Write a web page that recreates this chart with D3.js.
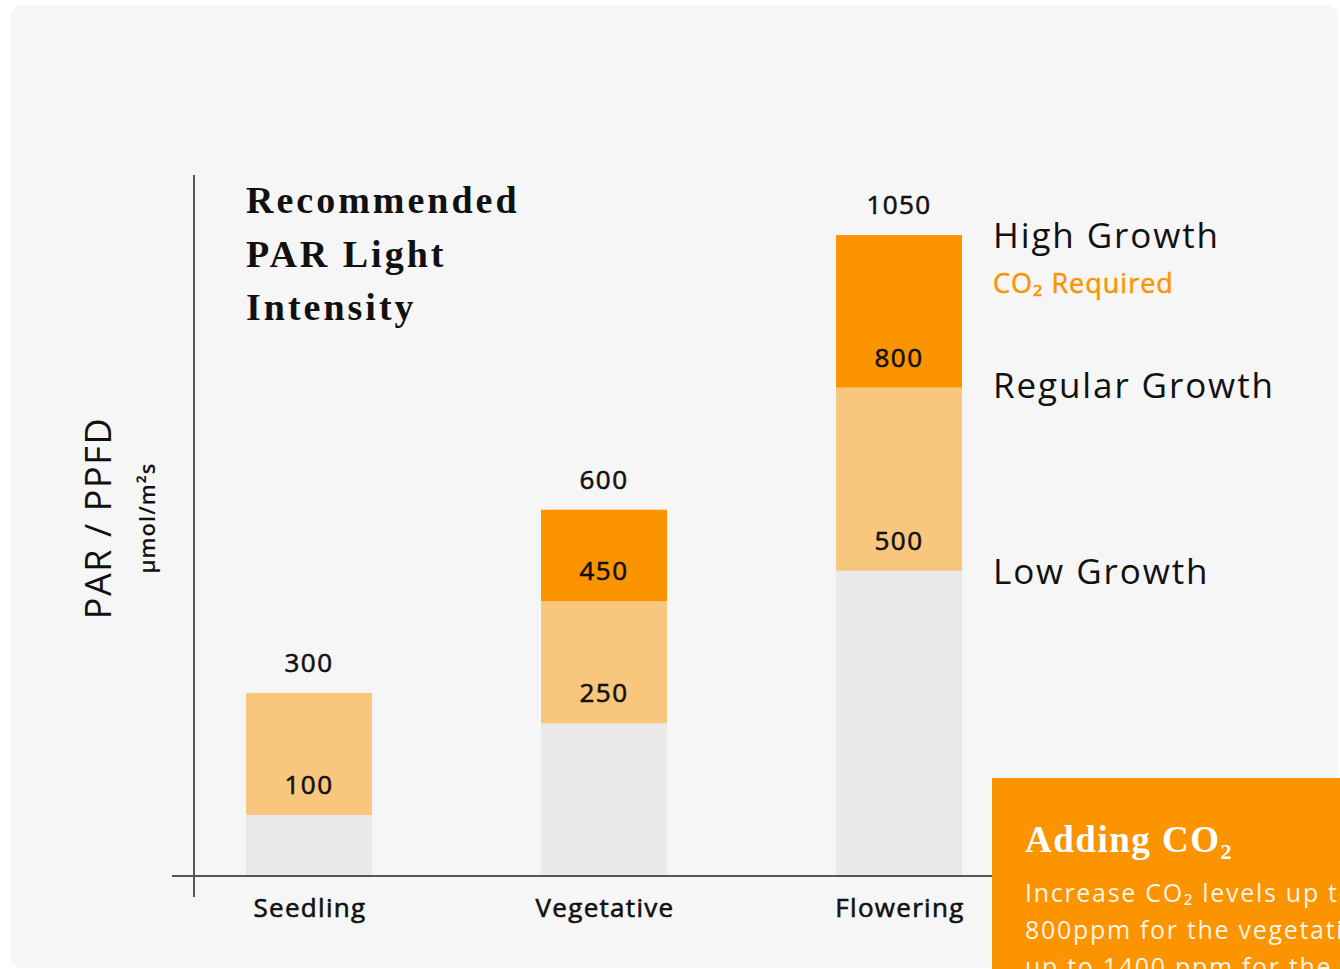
<!DOCTYPE html>
<meta charset="utf-8">
<script src="https://d3js.org/d3.v7.min.js"></script>
<style>
  body { margin: 0; background: #ffffff; }
  svg { display: block; }
  .sans { font-family: "Open Sans", "Noto Sans", sans-serif; }
  .serif { font-family: "Liberation Serif", "DejaVu Serif", serif; font-weight: bold; }
</style>
<div id="chart"></div>
<script>

// data
var stages = ["Seedling", "Vegetative", "Flowering"];
var lowTop = [100, 250, 500];       // low growth (grey)
var regularTop = [300, 450, 800];   // regular growth (light orange)
var highTop = [null, 600, 1050];    // high growth, CO2 required (orange)
var legendLabels = ["High Growth", "Regular Growth", "Low Growth"];
var titleLines = ["Recommended", "PAR Light", "Intensity"];
var boxLines = ["Increase CO\u2082 levels up to", "800ppm for the vegetative stage and", "up to 1400 ppm for the flowering stage."];

var W = 1340, H = 969;
var svg = d3.select("#chart").append("svg").attr("width", W).attr("height", H);

// panel background
svg.append("rect").attr("x", 10).attr("y", 5).attr("width", 1328).attr("height", 963)
  .attr("rx", 13).attr("fill", "#f6f6f6");

var x = d3.scaleBand().domain(stages).range([246, 962]).paddingInner(1 - 126 / 295).paddingOuter(0);
var y = d3.scaleLinear().domain([0, 1050]).range([876, 235]);

// build segments from the arrays
var segs = [];
stages.forEach(function(s, i) {
  segs.push({stage: s, from: 0, to: lowTop[i], color: "#e9e9e9"});
  segs.push({stage: s, from: lowTop[i], to: regularTop[i], color: "#f8c67d"});
  if (highTop[i] != null) segs.push({stage: s, from: regularTop[i], to: highTop[i], color: "#fc9400"});
});

svg.selectAll("rect.bar").data(segs).enter().append("rect")
  .attr("class", "bar")
  .attr("x", function(d) { return x(d.stage); })
  .attr("y", function(d) { return y(d.to); })
  .attr("width", x.bandwidth())
  .attr("height", function(d) { return y(d.from) - y(d.to); })
  .attr("fill", function(d) { return d.color; });

// value labels, 30px above each boundary
var labels = [];
stages.forEach(function(s, i) {
  labels.push({stage: s, v: lowTop[i]});
  labels.push({stage: s, v: regularTop[i]});
  if (highTop[i] != null) labels.push({stage: s, v: highTop[i]});
});
svg.selectAll("text.val").data(labels).enter().append("text")
  .attr("class", "val sans")
  .attr("x", function(d) { return x(d.stage) + x.bandwidth() / 2; })
  .attr("y", function(d) { return y(d.v) - 21; })
  .attr("text-anchor", "middle")
  .attr("font-size", 26).attr("letter-spacing", 1.4)
  .attr("fill", "#111").attr("stroke", "#111").attr("stroke-width", 0.6)
  .text(function(d) { return d.v; });

// axes
svg.append("line").attr("x1", 194).attr("x2", 194).attr("y1", 175).attr("y2", 897)
  .attr("stroke", "#555").attr("stroke-width", 2);
svg.append("line").attr("x1", 172).attr("x2", 1000).attr("y1", 876).attr("y2", 876)
  .attr("stroke", "#555").attr("stroke-width", 2);

// x labels
svg.selectAll("text.xl").data(stages).enter().append("text")
  .attr("class", "xl sans")
  .attr("x", function(d) { return x(d) + x.bandwidth() / 2 + 1; })
  .attr("y", 917)
  .attr("text-anchor", "middle")
  .attr("font-size", 26).attr("letter-spacing", 1.3)
  .attr("fill", "#111").attr("stroke", "#111").attr("stroke-width", 0.6)
  .text(function(d) { return d; });

// y labels
svg.append("text").attr("class", "sans")
  .attr("transform", "translate(111,518) rotate(-90)")
  .attr("text-anchor", "middle").attr("font-size", 36).attr("fill", "#111")
  .attr("letter-spacing", 1.6)
  .text("PAR / PPFD");
svg.append("text").attr("class", "sans")
  .attr("transform", "translate(155,518) rotate(-90)")
  .attr("text-anchor", "middle").attr("font-size", 22).attr("font-weight", 600).attr("fill", "#111")
  .attr("letter-spacing", 1)
  .text("\u03bcmol/m\u00b2s");

// title
svg.selectAll("text.title").data(titleLines).enter().append("text")
  .attr("class", "title serif")
  .attr("x", 246)
  .attr("y", function(d, i) { return 213 + i * 53.5; })
  .attr("font-size", 38).attr("letter-spacing", 3).attr("fill", "#111")
  .text(function(d) { return d; });

// legend
var legendY = [y(1050) + 13, y(800) + 10, y(500) + 13];
svg.selectAll("text.leg").data(legendLabels).enter().append("text")
  .attr("class", "leg sans")
  .attr("x", 993)
  .attr("y", function(d, i) { return legendY[i]; })
  .attr("font-size", 35).attr("letter-spacing", 1.9).attr("fill", "#111")
  .text(function(d) { return d; });
svg.append("text").attr("class", "sans")
  .attr("x", 993).attr("y", 293)
  .attr("font-size", 27).attr("letter-spacing", 1).attr("fill", "#fc9400")
  .attr("stroke", "#fc9400").attr("stroke-width", 0.5)
  .text("CO\u2082 Required");

// CO2 info box
svg.append("rect").attr("x", 992).attr("y", 778).attr("width", 360).attr("height", 200)
  .attr("fill", "#fc9400");
svg.append("text").attr("class", "serif")
  .attr("x", 1025).attr("y", 852)
  .attr("font-size", 37).attr("letter-spacing", 1.5).attr("fill", "#fff")
  .text("Adding CO\u2082");
svg.selectAll("text.box").data(boxLines).enter().append("text")
  .attr("class", "box sans")
  .attr("x", 1025)
  .attr("y", function(d, i) { return 902 + i * 37; })
  .attr("font-size", 25).attr("letter-spacing", 1.7).attr("fill", "#fff").attr("fill-opacity", 0.92)
  .text(function(d) { return d; });

</script>
